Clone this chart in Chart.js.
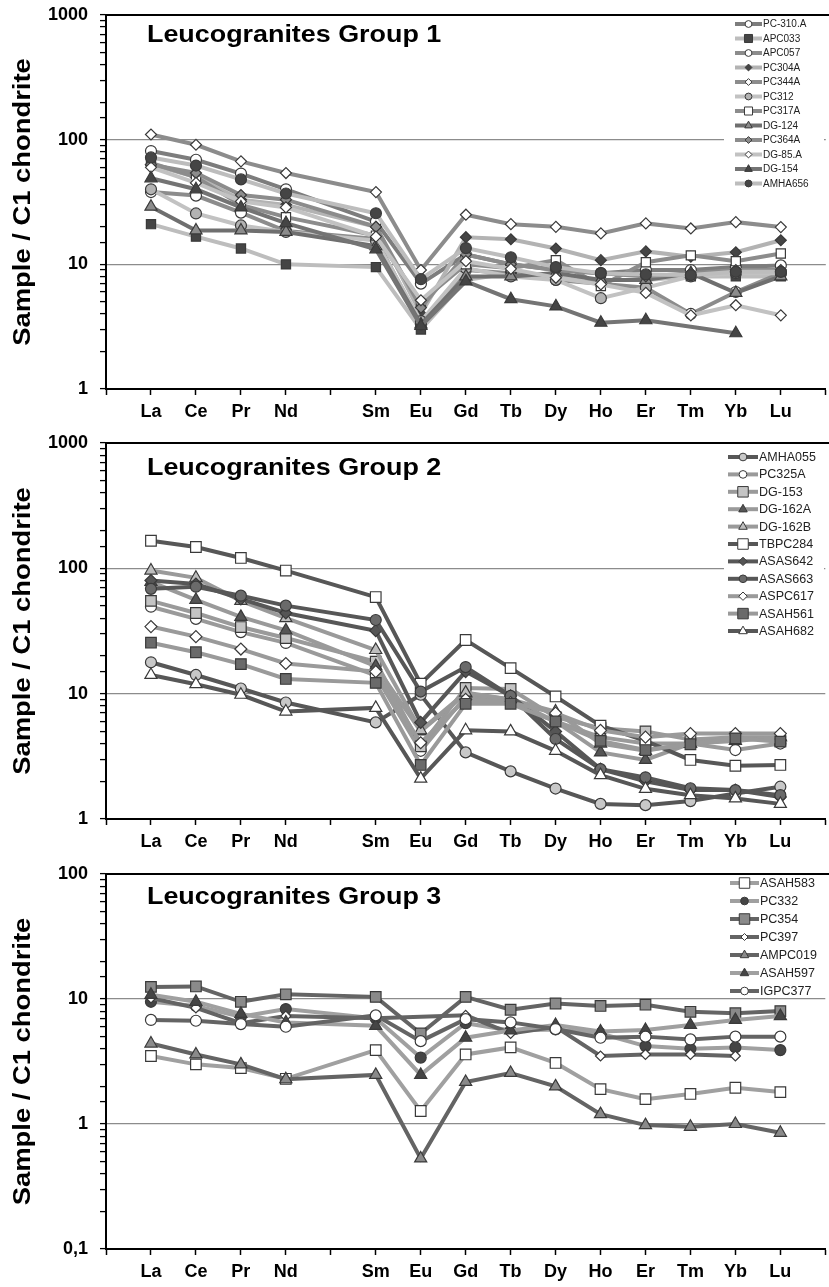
<!DOCTYPE html>
<html>
<head>
<meta charset="utf-8">
<script src="https://cdn.jsdelivr.net/npm/chart.js"></script>
<style>
  html, body { margin: 0; padding: 0; background: #fff; overflow: hidden; width: 829px; height: 1287px; }
  .panel { position: absolute; left: 0; }
</style>
</head>
<body>
<div class="panel" style="top:0"><canvas id="g1" width="834" height="425"></canvas></div>
<div class="panel" style="top:425px"><canvas id="g2" width="834" height="435"></canvas></div>
<div class="panel" style="top:860px"><canvas id="g3" width="834" height="427"></canvas></div>
<script>
// x categories (blank slots: axis origin, Pm, right edge)
var xLabels = ['', 'La', 'Ce', 'Pr', 'Nd', '', 'Sm', 'Eu', 'Gd', 'Tb', 'Dy', 'Ho', 'Er', 'Tm', 'Yb', 'Lu', ''];
var yTicks12 = [1, 10, 100, 1000];
var yTicks3 = [0.1, 1, 10, 100];

// Group 1  (La Ce Pr Nd Sm Eu Gd Tb Dy Ho Er Tm Yb Lu)
var pc310A  = [81, 69, 53.5, 40, 22, 7, 12, 10, 9, 8.5, 9, 9, 9.5, 9.8];
var apc033  = [21, 16.7, 13.4, 10, 9.5, 3.0, 7.5, 8.5, 8, 7.5, 7.5, 8, 8, 8];
var apc057  = [38, 35.6, 26, 18.5, 16, 3.3, 9, 8.5, 7.5, 7, 6.5, 4, 6, 8.5];
var pc304A  = [63, 50, 33, 30, 20, 4, 16.5, 15.9, 13.4, 10.8, 12.7, 11.5, 12.5, 15.6];
var pc344A  = [110, 91, 67, 54, 38, 9, 25, 21, 20, 17.7, 21.3, 19.4, 21.8, 19.9];
var pc312   = [40, 25.6, 20.5, 18.2, 15.5, 3.5, 9.3, 8.0, 7.5, 5.35, 6.5, 8, 8.5, 8.5];
var pc317A  = [65, 50, 30, 23.9, 17, 5, 10, 9.3, 10.8, 6.7, 10.4, 11.8, 10.6, 12.2];
var dg124   = [29, 18.7, 18.7, 18.2, 14, 3.3, 8, 8, 8.5, 7.5, 7.5, 8.5, 5.9, 8];
var pc364A  = [63, 54, 36, 33, 20, 4.5, 12, 10, 9, 8.5, 8, 8.5, 9, 9];
var dg85A   = [60, 45, 32, 28.6, 16.7, 5.15, 10.6, 9.2, 7.8, 6.9, 5.9, 3.9, 4.7, 3.9];
var dg154   = [49, 40, 28.6, 21.4, 13.2, 3.2, 7.3, 5.25, 4.6, 3.4, 3.56, null, 2.8, null];
var amha656 = [72, 62, 48, 37, 25.7, 7.6, 13.5, 11.4, 9.5, 8.5, 8.3, 8.2, 8.7, 8.7];

// Group 2
var amha055 = [17.8, 14.1, 11, 8.5, 5.9, 9.8, 3.4, 2.4, 1.75, 1.32, 1.29, 1.39, 1.6, 1.81];
var pc325A  = [49.4, 39.5, 31, 25.4, 14, 3.5, 9.5, 8.5, 6, 4.5, 4, 4, 3.55, 4];
var dg153   = [55, 44, 34, 27.8, 18, 3.8, 11.1, 10.9, 6.5, 5.3, 5.0, 4.3, 4.5, 4.2];
var dg162A  = [78, 56, 41, 32, 16.6, 5, 10, 9, 6, 3.4, 2.96, 4, 4.5, 4.5];
var dg162B  = [96, 84, 55, 40, 22.3, 5.1, 10.2, 9, 7.2, 4, 3.5, 4, 4.2, 4.5];
var tbpc284 = [166, 148, 121, 96, 59, 12, 26.8, 16, 9.5, 5.55, 4.2, 2.96, 2.66, 2.7];
var asas642 = [80, 75, 57, 44, 31.8, 5.9, 15, 9.6, 5, 2.5, 2.0, 1.7, 1.7, 1.5];
var asas663 = [68.6, 71.4, 60.5, 50.4, 38.7, 10.4, 16.3, 9.6, 4.35, 2.5, 2.15, 1.76, 1.7, 1.55];
var aspc617 = [34.3, 28.5, 22.7, 17.4, 15, 4.06, 9, 8.5, 7, 5.1, 4.5, 4.8, 4.8, 4.8];
var asah561 = [25.5, 21.4, 17.2, 13.1, 12.2, 2.7, 8.3, 8.3, 6.0, 4.2, 3.55, 3.95, 4.4, 4.14];
var asah682 = [14.1, 11.9, 9.8, 7.2, 7.7, 2.1, 5.1, 5, 3.5, 2.24, 1.74, 1.55, 1.46, 1.32];

// Group 3
var asah583 = [3.5, 3.0, 2.8, 2.3, 3.9, 1.27, 3.6, 4.1, 3.08, 1.9, 1.58, 1.74, 1.95, 1.8];
var pc332   = [9.5, 8.8, 7.2, 8.3, 7.0, 3.4, 6.4, 5.6, 5.7, 5.3, 4.2, 4.0, 4.1, 3.9];
var pc354   = [12.5, 12.6, 9.5, 10.9, 10.4, 5.3, 10.4, 8.2, 9.2, 8.8, 9.0, 7.9, 7.7, 8.0];
var pc397   = [10.2, 8.5, 6.4, 7.3, 7.0, null, 7.4, 5.3, 6.0, 3.5, 3.6, 3.6, 3.5, null];
var ampc019 = [4.4, 3.6, 3.0, 2.28, 2.47, 0.53, 2.17, 2.56, 2.0, 1.2, 0.98, 0.95, 1.0, 0.85];
var asah597 = [10.8, 9.5, 7.6, 6.5, 6.1, 2.47, 4.9, 5.6, 6.2, 5.5, 5.65, 6.2, 6.8, 7.3];
var igpc377 = [6.8, 6.7, 6.3, 6.0, 7.4, 4.6, 6.9, 6.5, 5.75, 4.9, 5.0, 4.75, 5.0, 5.0];

var FONT = '"Liberation Sans", Arial, sans-serif';
var RADIUS = { circle: 5.5, rect: 7.5, rectRot: 6, triangle: 7 };

// put the 14 REE values on the 17 x slots
function pad(v) {
  return [null, v[0], v[1], v[2], v[3], null].concat(v.slice(4)).concat([null]);
}

function ds(label, values, line, style, fill, r) {
  return {
    label: label,
    data: pad(values),
    borderColor: line,
    borderWidth: 4,
    pointStyle: style,
    pointRadius: r || RADIUS[style],
    pointBackgroundColor: fill,
    pointBorderColor: '#3a3a3a',
    pointBorderWidth: 1.2,
    spanGaps: true,
    tension: 0
  };
}

function drawMark(ctx, style, x, y, r, fill) {
  ctx.beginPath();
  if (style === 'circle') ctx.arc(x, y, r, 0, Math.PI * 2);
  else if (style === 'rect') ctx.rect(x - r, y - r, 2 * r, 2 * r);
  else if (style === 'rectRot') { ctx.moveTo(x, y - r); ctx.lineTo(x + r, y); ctx.lineTo(x, y + r); ctx.lineTo(x - r, y); ctx.closePath(); }
  else { ctx.moveTo(x, y - r); ctx.lineTo(x + r * 0.87, y + r * 0.55); ctx.lineTo(x - r * 0.87, y + r * 0.55); ctx.closePath(); }
  ctx.fillStyle = fill; ctx.fill();
  ctx.lineWidth = 1; ctx.strokeStyle = '#3a3a3a'; ctx.stroke();
}

var decor = {
  id: 'decor',
  afterDraw: function(chart) {
    var o = chart.options.plugins.decor;
    var ctx = chart.ctx, a = chart.chartArea;
    ctx.save();

    // legend box (white, hides grid lines behind it)
    var L = o.legend;
    ctx.fillStyle = '#fff';
    ctx.fillRect(L.box[0], L.box[1], L.box[2], L.box[3]);

    // top frame line
    ctx.strokeStyle = '#000'; ctx.lineWidth = 2;
    ctx.beginPath(); ctx.moveTo(a.left - 1, a.top); ctx.lineTo(chart.width, a.top); ctx.stroke();

    // title inside the plot
    ctx.fillStyle = '#000';
    ctx.font = 'bold 24px ' + FONT;
    ctx.textAlign = 'left'; ctx.textBaseline = 'alphabetic';
    ctx.save();
    ctx.translate(147, a.top + o.titleBase);
    ctx.scale(1.12, 1);
    ctx.fillText(o.title, 0, 0);
    ctx.restore();

    // y axis title
    ctx.save();
    ctx.font = 'bold 23px ' + FONT;
    ctx.translate(29.5, (a.top + a.bottom) / 2);
    ctx.rotate(-Math.PI / 2);
    ctx.scale(1.19, 1);
    ctx.textAlign = 'center';
    ctx.fillText('Sample / C1 chondrite', 0, 0);
    ctx.restore();

    // legend entries
    ctx.font = L.font + 'px ' + FONT;
    ctx.textAlign = 'left'; ctx.textBaseline = 'middle';
    chart.data.datasets.forEach(function(d, i) {
      var y = L.y0 + i * L.dy;
      ctx.strokeStyle = d.borderColor; ctx.lineWidth = 4;
      ctx.beginPath(); ctx.moveTo(L.x0, y); ctx.lineTo(L.x1, y); ctx.stroke();
      drawMark(ctx, d.pointStyle, (L.x0 + L.x1) / 2, y, d.pointRadius * L.k, d.pointBackgroundColor);
      ctx.fillStyle = '#222';
      ctx.fillText(d.label, L.x1 + 1, y + 0.5);
    });
    ctx.restore();
  }
};

function makePanel(id, datasets, p) {
  var n = datasets.length;
  datasets.forEach(function(d, i) { d.order = n - i; });
  var cv = document.getElementById(id);
  return new Chart(cv, {
    type: 'line',
    data: { labels: xLabels, datasets: datasets },
    options: {
      responsive: false,
      animation: false,
      events: [],
      layout: { padding: { top: p.top, left: 0, right: 0, bottom: 0 } },
      plugins: {
        legend: { display: false },
        tooltip: { enabled: false },
        decor: { title: p.title, titleBase: p.titleBase, legend: p.legend }
      },
      scales: {
        x: {
          type: 'category',
          offset: false,
          afterFit: function(s) {
            s.height = cv.height - p.bottom;
            s.paddingLeft = 0; s.paddingRight = 0;
          },
          grid: { drawOnChartArea: false, drawTicks: true, tickLength: 6, tickColor: '#000', tickWidth: 1.5 },
          border: { display: true, color: '#000', width: 2 },
          ticks: { autoSkip: false, maxRotation: 0, padding: 6, color: '#000', font: { family: FONT, size: 18, weight: 'bold' } }
        },
        y: {
          type: 'logarithmic',
          min: p.ticks[0],
          max: p.ticks[p.ticks.length - 1],
          afterFit: function(s) {
            s.width = 106;
            s.paddingTop = 0; s.paddingBottom = 0;
          },
          grid: {
            color: function(c) {
              var v = c.tick ? c.tick.value : null;
              for (var k = 1; k < p.ticks.length - 1; k++) {
                if (v !== null && Math.abs(v - p.ticks[k]) < 1e-9) return '#8c8c8c';
              }
              return 'rgba(0,0,0,0)';
            },
            lineWidth: 1.2,
            tickLength: 6,
            tickColor: '#000',
            tickWidth: 1.3
          },
          border: { display: true, color: '#000', width: 2 },
          ticks: {
            autoSkip: false,
            padding: 12,
            color: '#000',
            font: { family: FONT, size: 18, weight: 'bold' },
            callback: function(v) {
              for (var k = 0; k < p.ticks.length; k++) {
                if (Math.abs(v - p.ticks[k]) < 1e-9) return String(p.ticks[k]).replace('.', ',');
              }
              return '';
            }
          }
        }
      }
    },
    plugins: [decor]
  });
}

var LIGHT = '#c2c2c2', MID = '#8c8c8c', DARK = '#747474';

makePanel('g1', [
  ds('PC-310.A', pc310A, '#7d7d7d', 'circle', '#ffffff'),
  ds('APC033', apc033, '#bdbdbd', 'rect', '#454545', 6.5),
  ds('APC057', apc057, MID, 'circle', '#ffffff'),
  ds('PC304A', pc304A, '#b3b3b3', 'rectRot', '#454545', 5.5),
  ds('PC344A', pc344A, MID, 'rectRot', '#ffffff', 5.5),
  ds('PC312', pc312, LIGHT, 'circle', '#b3b3b3'),
  ds('PC317A', pc317A, MID, 'rect', '#ffffff', 6.5),
  ds('DG-124', dg124, '#6f6f6f', 'triangle', '#8c8c8c'),
  ds('PC364A', pc364A, MID, 'rectRot', '#8c8c8c', 5.5),
  ds('DG-85.A', dg85A, LIGHT, 'rectRot', '#ffffff', 5.5),
  ds('DG-154', dg154, DARK, 'triangle', '#454545'),
  ds('AMHA656', amha656, '#bdbdbd', 'circle', '#454545')
], {
  top: 15, bottom: 389, ticks: yTicks12,
  title: 'Leucogranites Group 1', titleBase: 27,
  legend: { box: [724, 17, 100, 175], x0: 735, x1: 762, y0: 24, dy: 14.5, font: 10, k: 0.62 }
});

var D2 = '#575757', L2 = '#9a9a9a';
makePanel('g2', [
  ds('AMHA055', amha055, D2, 'circle', '#c8c8c8'),
  ds('PC325A', pc325A, L2, 'circle', '#ffffff'),
  ds('DG-153', dg153, L2, 'rect', '#c4c4c4'),
  ds('DG-162A', dg162A, L2, 'triangle', '#555555'),
  ds('DG-162B', dg162B, L2, 'triangle', '#bdbdbd'),
  ds('TBPC284', tbpc284, D2, 'rect', '#ffffff'),
  ds('ASAS642', asas642, D2, 'rectRot', '#555555'),
  ds('ASAS663', asas663, D2, 'circle', '#6a6a6a'),
  ds('ASPC617', aspc617, L2, 'rectRot', '#ffffff'),
  ds('ASAH561', asah561, L2, 'rect', '#6a6a6a'),
  ds('ASAH682', asah682, D2, 'triangle', '#ffffff')
], {
  top: 18, bottom: 394, ticks: yTicks12,
  title: 'Leucogranites Group 2', titleBase: 32,
  legend: { box: [724, 22, 100, 195], x0: 728, x1: 758, y0: 32, dy: 17.4, font: 12.5, k: 0.7 }
});

var D3 = '#646464', L3 = '#a0a0a0';
makePanel('g3', [
  ds('ASAH583', asah583, L3, 'rect', '#ffffff'),
  ds('PC332', pc332, L3, 'circle', '#454545'),
  ds('PC354', pc354, D3, 'rect', '#8a8a8a'),
  ds('PC397', pc397, D3, 'rectRot', '#ffffff', 5),
  ds('AMPC019', ampc019, D3, 'triangle', '#8a8a8a'),
  ds('ASAH597', asah597, L3, 'triangle', '#454545'),
  ds('IGPC377', igpc377, D3, 'circle', '#ffffff')
], {
  top: 14, bottom: 389, ticks: yTicks3,
  title: 'Leucogranites Group 3', titleBase: 30,
  legend: { box: [724, 16, 100, 121], x0: 730, x1: 759, y0: 23, dy: 18, font: 12.5, k: 0.7 }
});
</script>
</body>
</html>
